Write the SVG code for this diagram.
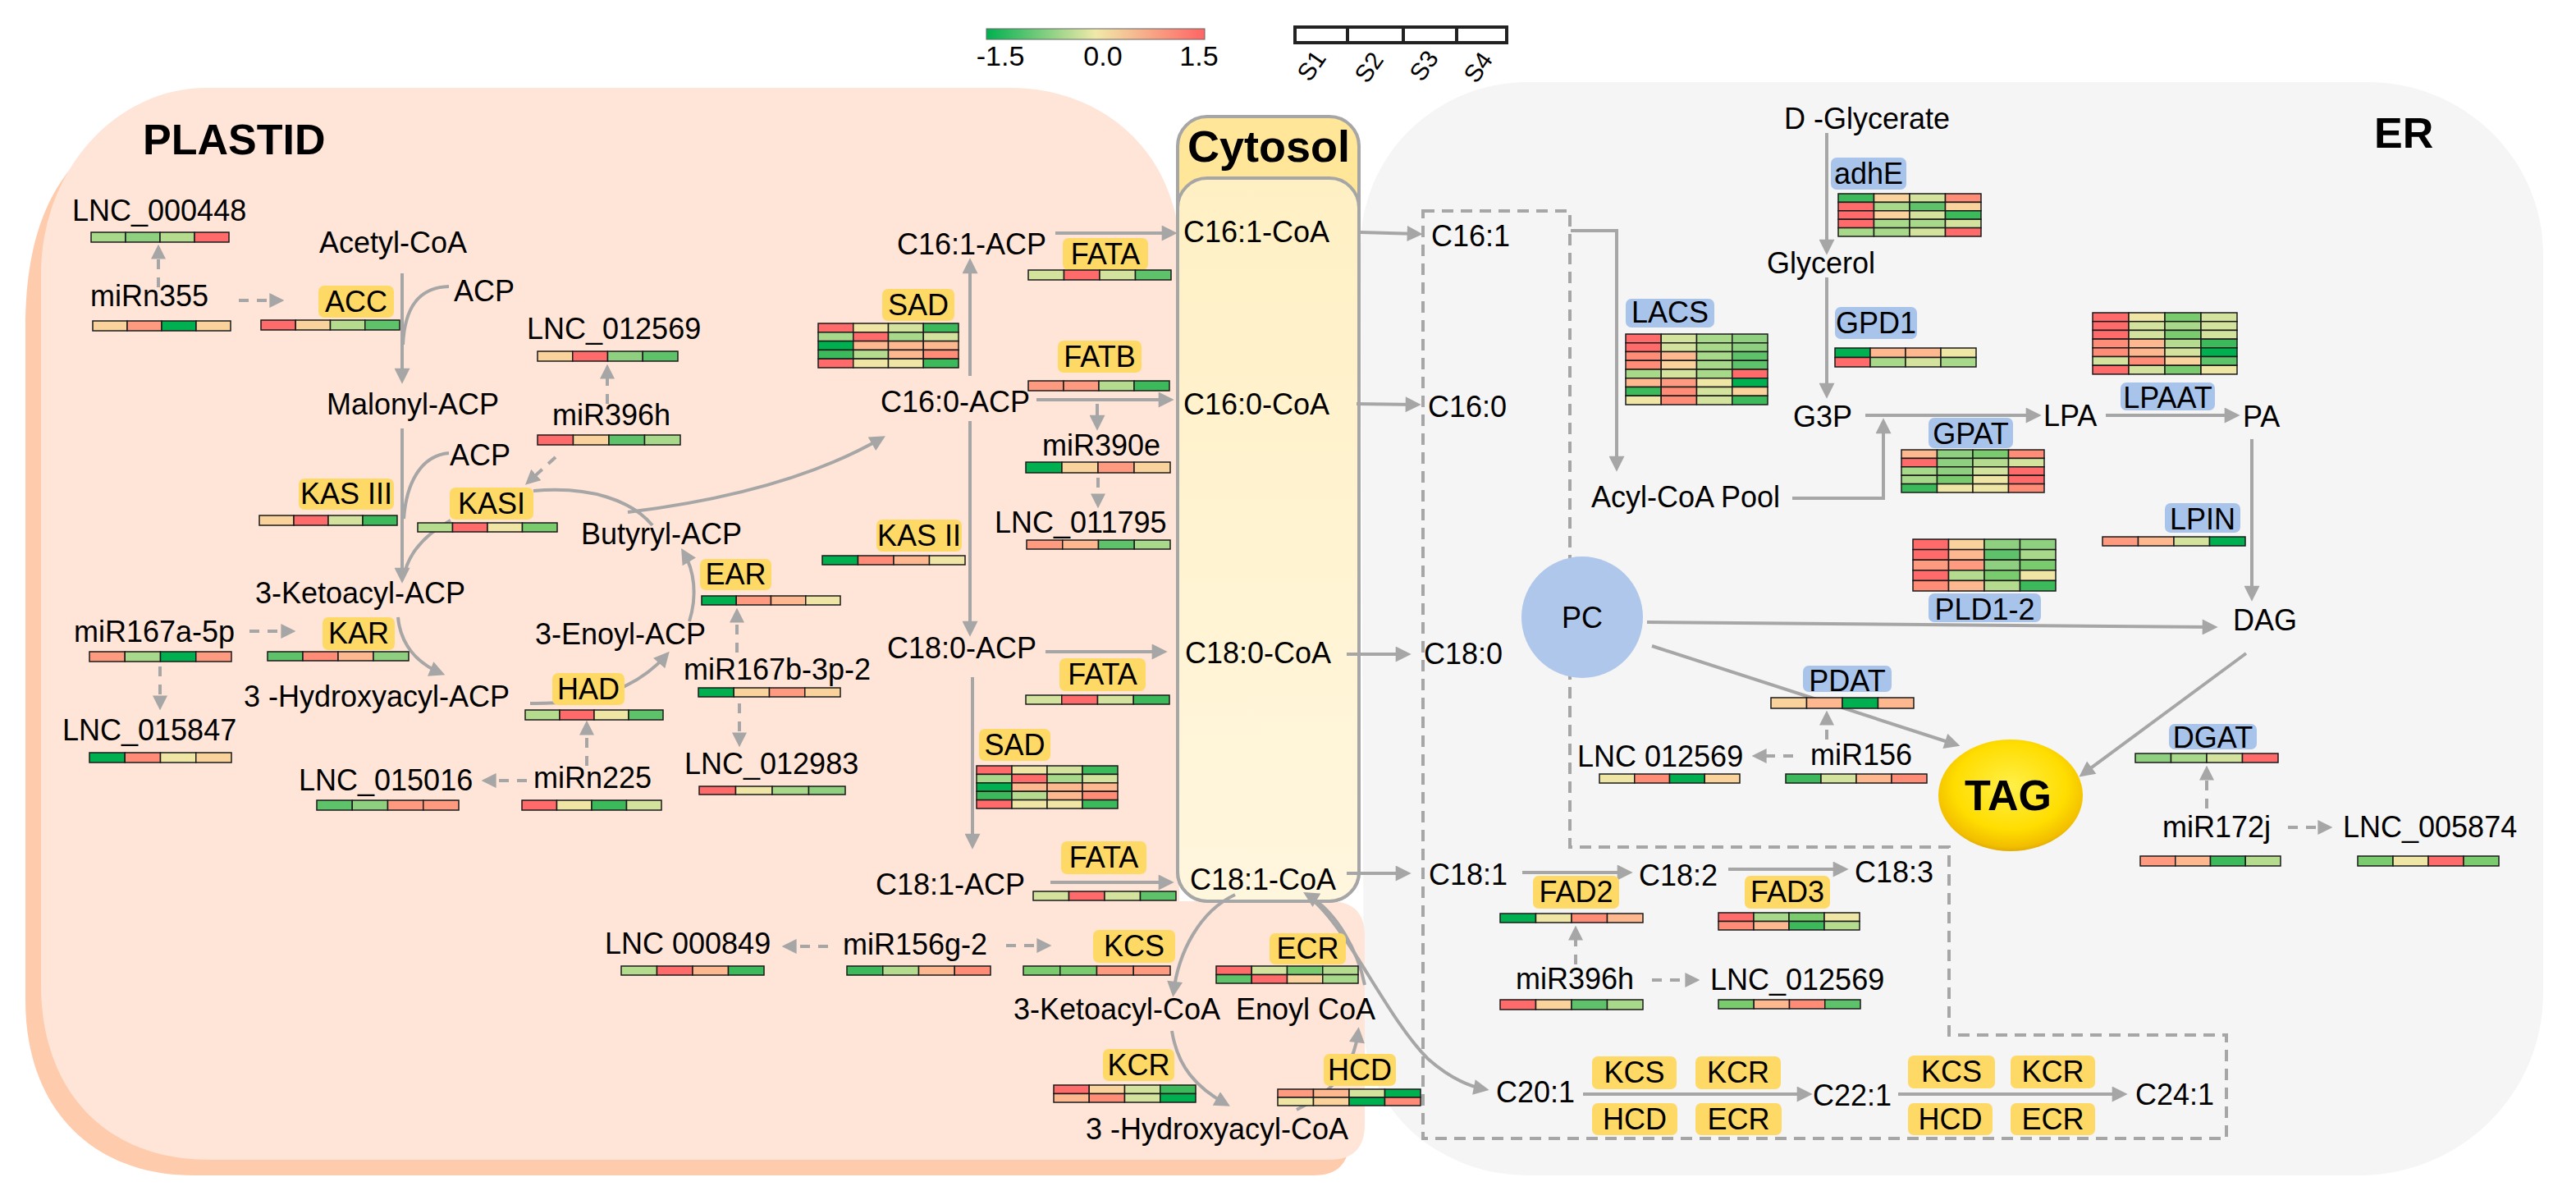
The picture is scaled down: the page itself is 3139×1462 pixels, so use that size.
<svg xmlns="http://www.w3.org/2000/svg" width="3139" height="1462" viewBox="0 0 3139 1462">
<style>
.t{font-family:"Liberation Sans",Arial,sans-serif;font-size:36px;fill:#000}
.m{text-anchor:middle}
.b{font-weight:bold}
.big{font-size:52px}
.cy{font-size:54px}
.lg{font-size:34px}
.sl{font-size:30px}
.ey{fill:#FFD966}
.eb{fill:#A9C4EB}
.c{fill:none;stroke:#A6A6A6;stroke-width:4}
.ar{marker-end:url(#ah)}
.d{fill:none;stroke:#A6A6A6;stroke-width:4;stroke-dasharray:12 10;marker-end:url(#ahd)}
.hm rect{stroke:#1a1a1a;stroke-width:1.5}
.g1{fill:#00B050}.g2{fill:#3CB95A}.g2b{fill:#5DC26A}.g3{fill:#7ACB6E}.g3b{fill:#8ED080}
.g4{fill:#A8D88A}.g4b{fill:#B5DC8E}.g5{fill:#D3E29D}.y{fill:#EFE6A6}.o1{fill:#FAD29C}
.o2{fill:#FDB890}.r1{fill:#FE9A80}.r1b{fill:#FE8C77}.r2{fill:#FF6B6B}
</style>
<defs>
<marker id="ah" viewBox="0 0 10 10" refX="7" refY="5" markerUnits="userSpaceOnUse" markerWidth="20" markerHeight="19" orient="auto"><path d="M0,0 L10,5 L0,10 z" fill="#A6A6A6"/></marker>
<marker id="ahd" viewBox="0 0 10 10" refX="7" refY="5" markerUnits="userSpaceOnUse" markerWidth="18" markerHeight="18" orient="auto"><path d="M0,0 L10,5 L0,10 z" fill="#A6A6A6"/></marker>
<linearGradient id="scale" x1="0" x2="1" y1="0" y2="0"><stop offset="0" stop-color="#00B050"/><stop offset="0.5" stop-color="#F0E9A9"/><stop offset="1" stop-color="#FF6464"/></linearGradient>
<linearGradient id="cyto" x1="0" x2="0" y1="0" y2="1"><stop offset="0" stop-color="#FFF0C4"/><stop offset="1" stop-color="#FFF6DE"/></linearGradient>
<radialGradient id="tag" cx="0.5" cy="0.42" r="0.6"><stop offset="0" stop-color="#FFF04A"/><stop offset="0.65" stop-color="#FFDD00"/><stop offset="0.9" stop-color="#F2BE00"/><stop offset="1" stop-color="#D9A400"/></radialGradient>
</defs>

<!-- compartments -->
<g id="er-region">
<path d="M1658,300 A204,200 0 0 1 1862,100 H2885 A214,210 0 0 1 3099,310 V1210 A224,222 0 0 1 2875,1432 H1862 A200,182 0 0 1 1662,1250 Z" fill="#F5F5F5"/>
<text class="t b big" x="2893" y="180">ER</text>
</g>
<g id="plastid-region">
<path d="M31,400 C31,300 55,235 100,190 L300,300 H1418 V1117 H1601 Q1644,1117 1644,1159 V1389 Q1644,1432 1601,1432 H236 C111,1432 31,1349 31,1219 Z" fill="#FFCBAD"/>
<path d="M50,333 A202,226 0 0 1 252,107 H1232 C1330,107 1425,170 1437,290 V1098 H1620 Q1663,1098 1663,1140 V1370 Q1663,1413 1620,1413 H255 C130,1413 50,1330 50,1200 Z" fill="#FEE5D7"/>
<text class="t b big" x="174" y="188">PLASTID</text>
</g>
<g id="cytosol-region">
<rect x="1435" y="142" width="221" height="956" rx="36" fill="#FFE699" stroke="#A6A6A6" stroke-width="4"/>
<rect x="1435" y="217" width="221" height="881" rx="36" fill="url(#cyto)" stroke="#A6A6A6" stroke-width="4"/>
<text class="t b m cy" x="1546" y="197">Cytosol</text>
</g>
<path id="er-dashed-box" d="M1734,257 H1913 V1032 H2375 V1261 H2713 V1387 H1734 Z" fill="none" stroke="#A6A6A6" stroke-width="4" stroke-dasharray="14 9"/>

<!-- legend -->
<g id="legend-scale">
<rect x="1202" y="35" width="266" height="13" fill="url(#scale)" stroke="#666" stroke-width="1"/>
<text class="t m lg" x="1219" y="80">-1.5</text>
<text class="t m lg" x="1344" y="80">0.0</text>
<text class="t m lg" x="1461" y="80">1.5</text>
</g>
<g id="legend-samples">
<rect x="1578" y="33" width="258" height="19" fill="#fff" stroke="#222" stroke-width="4"/>
<path d="M1642,33 V52 M1710,33 V52 M1775,33 V52" stroke="#222" stroke-width="4"/>
<text class="t sl" transform="translate(1596,101) rotate(-55)">S1</text>
<text class="t sl" transform="translate(1666,103) rotate(-55)">S2</text>
<text class="t sl" transform="translate(1733,101) rotate(-55)">S3</text>
<text class="t sl" transform="translate(1799,103) rotate(-55)">S4</text>
</g>

<!-- connectors -->
<g id="connectors">
<path class="c ar" d="M490,333 V462"/>
<path class="c" d="M547,349 C510,350 493,375 491,420"/>
<path class="c ar" d="M490,522 V705"/>
<path class="c" d="M547,552 C512,555 495,590 492,632"/>
<path class="c" d="M549,634 C520,650 500,670 493,698"/>
<path class="c" d="M650,598 C720,592 770,610 795,640"/>
<path class="c ar" d="M765,624 Q960,600 1074,534"/>
<path class="c ar" d="M485,752 C488,785 508,808 537,820"/>
<path class="c ar" d="M646,857 C720,858 775,840 812,798"/>
<path class="c ar" d="M840,757 C850,725 846,695 833,673"/>
<path class="c ar" d="M1286,284 H1429"/>
<path class="c ar" d="M1182,458 V320"/>
<path class="c ar" d="M1263,487 H1425"/>
<path class="c ar" d="M1337,492 V519"/>
<path class="c ar" d="M1182,513 V770"/>
<path class="c ar" d="M1274,794 H1417"/>
<path class="c ar" d="M1185,825 V1029"/>
<path class="c ar" d="M1280,1075 H1425"/>
<path class="c ar" d="M1505,1090 C1462,1110 1436,1160 1430,1209"/>
<path class="c ar" d="M1428,1256 C1435,1300 1458,1325 1494,1345"/>
<path class="c ar" d="M1580,1352 C1625,1330 1650,1300 1655,1257"/>
<path class="c ar" d="M1663,1200 C1655,1160 1630,1112 1593,1090"/>
<path class="c ar" d="M1598,1095 C1645,1135 1690,1240 1740,1290 C1765,1312 1788,1323 1809,1327"/>
<path class="c ar" d="M1658,283 L1728,285"/>
<path class="c ar" d="M1653,492 L1726,493"/>
<path class="c ar" d="M1641,797 H1714"/>
<path class="c ar" d="M1641,1064 H1714"/>
<path class="c ar" d="M1914,281 H1970 V569"/>
<path class="c ar" d="M2226,162 V305"/>
<path class="c ar" d="M2226,338 V480"/>
<path class="c ar" d="M2184,607 H2295 V515"/>
<path class="c ar" d="M2273,506 H2482"/>
<path class="c ar" d="M2566,506 H2724"/>
<path class="c ar" d="M2744,535 V727"/>
<path class="c ar" d="M2007,758 L2697,764"/>
<path class="c ar" d="M2013,787 L2383,907"/>
<path class="c ar" d="M2737,796 L2538,943"/>
<path class="c ar" d="M1855,1063 H1984"/>
<path class="c ar" d="M2106,1059 H2247"/>
<path class="c ar" d="M1929,1333 H2203"/>
<path class="c ar" d="M2313,1333 H2587"/>
<path class="d" d="M193,350 V303"/>
<path class="d" d="M291,366 H341"/>
<path class="d" d="M740,492 V449"/>
<path class="d" d="M677,557 L644,587"/>
<path class="d" d="M304,769 H355"/>
<path class="d" d="M195,812 V860"/>
<path class="d" d="M898,795 V746"/>
<path class="d" d="M901,857 V905"/>
<path class="d" d="M715,933 V883"/>
<path class="d" d="M642,951 H592"/>
<path class="d" d="M1338,582 V614"/>
<path class="d" d="M1009,1153 H958"/>
<path class="d" d="M1226,1152 H1276"/>
<path class="d" d="M2226,901 V871"/>
<path class="d" d="M2185,921 H2140"/>
<path class="d" d="M2689,985 V938"/>
<path class="d" d="M2788,1008 H2837"/>
<path class="d" d="M1920,1175 V1133"/>
<path class="d" d="M2013,1194 H2066"/>
</g>

<!-- plastid nodes -->
<g id="lnc-000448"><text class="t" x="88" y="269">LNC_000448</text>
<g class="hm" transform="translate(111,283)"><rect class="g4" width="42" height="12"/><rect class="g3b" x="42" width="42" height="12"/><rect class="g4b" x="84" width="42" height="12"/><rect class="r2" x="126" width="42" height="12"/></g></g>
<g id="mirn355"><text class="t" x="110" y="373">miRn355</text>
<g class="hm" transform="translate(113,391)"><rect class="o1" width="42" height="12"/><rect class="r1" x="42" width="42" height="12"/><rect class="g1" x="84" width="42" height="12"/><rect class="o1" x="126" width="42" height="12"/></g></g>
<g id="acetyl-coa"><text class="t" x="389" y="308">Acetyl-CoA</text></g>
<g id="acp-1"><text class="t" x="553" y="367">ACP</text></g>
<g id="acc"><rect class="ey" x="388" y="348" width="92" height="39" rx="7"/><text class="t m" x="434" y="380">ACC</text>
<g class="hm" transform="translate(318,390)"><rect class="r2" width="42.25" height="12"/><rect class="o1" x="42.25" width="42.25" height="12"/><rect class="g4b" x="84.5" width="42.25" height="12"/><rect class="g2b" x="126.75" width="42.25" height="12"/></g></g>
<g id="lnc-012569-a"><text class="t" x="642" y="413">LNC_012569</text>
<g class="hm" transform="translate(655,428)"><rect class="o1" width="42.75" height="12"/><rect class="r2" x="42.75" width="42.75" height="12"/><rect class="g3b" x="85.5" width="42.75" height="12"/><rect class="g2b" x="128.25" width="42.75" height="12"/></g></g>
<g id="malonyl-acp"><text class="t" x="398" y="505">Malonyl-ACP</text></g>
<g id="mir396h-a"><text class="t" x="673" y="518">miR396h</text>
<g class="hm" transform="translate(655,530)"><rect class="r2" width="43.5" height="12"/><rect class="o1" x="43.5" width="43.5" height="12"/><rect class="g2b" x="87" width="43.5" height="12"/><rect class="g4" x="130.5" width="43.5" height="12"/></g></g>
<g id="acp-2"><text class="t" x="548" y="567">ACP</text></g>
<g id="kas-iii"><rect class="ey" x="364" y="583" width="116" height="38" rx="7"/><text class="t m" x="422" y="614">KAS III</text>
<g class="hm" transform="translate(316,628)"><rect class="o1" width="42" height="12"/><rect class="r2" x="42" width="42" height="12"/><rect class="g5" x="84" width="42" height="12"/><rect class="g2" x="126" width="42" height="12"/></g></g>
<g id="kasi"><rect class="ey" x="548" y="594" width="102" height="39" rx="7"/><text class="t m" x="599" y="626">KASI</text>
<g class="hm" transform="translate(509,637)"><rect class="g4b" width="42.5" height="11"/><rect class="r2" x="42.5" width="42.5" height="11"/><rect class="y" x="85" width="42.5" height="11"/><rect class="g3" x="127.5" width="42.5" height="11"/></g></g>
<g id="butyryl-acp"><text class="t" x="708" y="663">Butyryl-ACP</text></g>
<g id="ketoacyl-acp"><text class="t" x="311" y="735">3-Ketoacyl-ACP</text></g>
<g id="mir167a-5p"><text class="t" x="90" y="782">miR167a-5p</text>
<g class="hm" transform="translate(109,794)"><rect class="r1" width="43.25" height="12"/><rect class="g4" x="43.25" width="43.25" height="12"/><rect class="g1" x="86.5" width="43.25" height="12"/><rect class="r1" x="129.75" width="43.25" height="12"/></g></g>
<g id="kar"><rect class="ey" x="393" y="752" width="88" height="40" rx="7"/><text class="t m" x="437" y="784">KAR</text>
<g class="hm" transform="translate(326,794)"><rect class="g2b" width="43" height="11"/><rect class="r1b" x="43" width="43" height="11"/><rect class="o2" x="86" width="43" height="11"/><rect class="g3b" x="129" width="43" height="11"/></g></g>
<g id="enoyl-acp"><text class="t" x="652" y="785">3-Enoyl-ACP</text></g>
<g id="ear"><rect class="ey" x="853" y="681" width="87" height="38" rx="7"/><text class="t m" x="896.5" y="712">EAR</text>
<g class="hm" transform="translate(855,726)"><rect class="g1" width="42.25" height="11"/><rect class="r1" x="42.25" width="42.25" height="11"/><rect class="o2" x="84.5" width="42.25" height="11"/><rect class="y" x="126.75" width="42.25" height="11"/></g></g>
<g id="hydroxyacyl-acp"><text class="t" x="297" y="861">3 -Hydroxyacyl-ACP</text></g>
<g id="had"><rect class="ey" x="673" y="820" width="88" height="39" rx="7"/><text class="t m" x="717" y="852">HAD</text>
<g class="hm" transform="translate(640,865)"><rect class="g4b" width="42" height="12"/><rect class="r2" x="42" width="42" height="12"/><rect class="y" x="84" width="42" height="12"/><rect class="g2b" x="126" width="42" height="12"/></g></g>
<g id="mir167b-3p-2"><text class="t" x="833" y="828">miR167b-3p-2</text>
<g class="hm" transform="translate(851,838)"><rect class="g1" width="43.25" height="11"/><rect class="o1" x="43.25" width="43.25" height="11"/><rect class="r1" x="86.5" width="43.25" height="11"/><rect class="o1" x="129.75" width="43.25" height="11"/></g></g>
<g id="lnc-015847"><text class="t" x="76" y="902">LNC_015847</text>
<g class="hm" transform="translate(109,917)"><rect class="g1" width="43.25" height="12"/><rect class="r1b" x="43.25" width="43.25" height="12"/><rect class="y" x="86.5" width="43.25" height="12"/><rect class="o1" x="129.75" width="43.25" height="12"/></g></g>
<g id="lnc-012983"><text class="t" x="834" y="943">LNC_012983</text>
<g class="hm" transform="translate(852,958)"><rect class="r2" width="44.5" height="10"/><rect class="y" x="44.5" width="44.5" height="10"/><rect class="g4" x="89" width="44.5" height="10"/><rect class="g3b" x="133.5" width="44.5" height="10"/></g></g>
<g id="mirn225"><text class="t" x="650" y="960">miRn225</text>
<g class="hm" transform="translate(636,975)"><rect class="r2" width="42.5" height="12"/><rect class="y" x="42.5" width="42.5" height="12"/><rect class="g2" x="85" width="42.5" height="12"/><rect class="g5" x="127.5" width="42.5" height="12"/></g></g>
<g id="lnc-015016"><text class="t" x="364" y="963">LNC_015016</text>
<g class="hm" transform="translate(386,975)"><rect class="g2b" width="43.25" height="12"/><rect class="g3b" x="43.25" width="43.25" height="12"/><rect class="r1" x="86.5" width="43.25" height="12"/><rect class="r1" x="129.75" width="43.25" height="12"/></g></g>

<g id="c16-1-acp"><text class="t" x="1093" y="310">C16:1-ACP</text></g>
<g id="fata-1"><rect class="ey" x="1295" y="290" width="104" height="39" rx="7"/><text class="t m" x="1347" y="322">FATA</text>
<g class="hm" transform="translate(1253,329)"><rect class="g5" width="43.5" height="12"/><rect class="r2" x="43.5" width="43.5" height="12"/><rect class="g5" x="87" width="43.5" height="12"/><rect class="g2b" x="130.5" width="43.5" height="12"/></g></g>
<g id="sad-1"><rect class="ey" x="1075" y="352" width="88" height="39" rx="7"/><text class="t m" x="1119" y="384">SAD</text>
<g class="hm" transform="translate(997,394)">
<rect class="r2" width="42.75" height="10.8"/><rect class="y" x="42.75" width="42.75" height="10.8"/><rect class="g5" x="85.5" width="42.75" height="10.8"/><rect class="g2" x="128.25" width="42.75" height="10.8"/>
<rect class="g4" y="10.8" width="42.75" height="10.8"/><rect class="r2" x="42.75" y="10.8" width="42.75" height="10.8"/><rect class="g4" x="85.5" y="10.8" width="42.75" height="10.8"/><rect class="g5" x="128.25" y="10.8" width="42.75" height="10.8"/>
<rect class="g1" y="21.6" width="42.75" height="10.8"/><rect class="o2" x="42.75" y="21.6" width="42.75" height="10.8"/><rect class="o2" x="85.5" y="21.6" width="42.75" height="10.8"/><rect class="o2" x="128.25" y="21.6" width="42.75" height="10.8"/>
<rect class="g2" y="32.4" width="42.75" height="10.8"/><rect class="g4b" x="42.75" y="32.4" width="42.75" height="10.8"/><rect class="o2" x="85.5" y="32.4" width="42.75" height="10.8"/><rect class="r1b" x="128.25" y="32.4" width="42.75" height="10.8"/>
<rect class="r2" y="43.2" width="42.75" height="10.8"/><rect class="y" x="42.75" y="43.2" width="42.75" height="10.8"/><rect class="y" x="85.5" y="43.2" width="42.75" height="10.8"/><rect class="g2" x="128.25" y="43.2" width="42.75" height="10.8"/>
</g></g>
<g id="c16-0-acp"><text class="t" x="1073" y="502">C16:0-ACP</text></g>
<g id="fatb"><rect class="ey" x="1289" y="415" width="102" height="39" rx="7"/><text class="t m" x="1340" y="447">FATB</text>
<g class="hm" transform="translate(1253,464)"><rect class="r1" width="43" height="12"/><rect class="r1" x="43" width="43" height="12"/><rect class="g4b" x="86" width="43" height="12"/><rect class="g2" x="129" width="43" height="12"/></g></g>
<g id="mir390e"><text class="t" x="1270" y="555">miR390e</text>
<g class="hm" transform="translate(1250,563)"><rect class="g1" width="44" height="13"/><rect class="o1" x="44" width="44" height="13"/><rect class="r1" x="88" width="44" height="13"/><rect class="o1" x="132" width="44" height="13"/></g></g>
<g id="lnc-011795"><text class="t" x="1212" y="649">LNC_011795</text>
<g class="hm" transform="translate(1251,658)"><rect class="r1" width="43.75" height="11"/><rect class="o2" x="43.75" width="43.75" height="11"/><rect class="g2b" x="87.5" width="43.75" height="11"/><rect class="g4" x="131.25" width="43.75" height="11"/></g></g>
<g id="kas-ii"><rect class="ey" x="1068" y="633" width="104" height="39" rx="7"/><text class="t m" x="1120" y="665">KAS II</text>
<g class="hm" transform="translate(1002,677)"><rect class="g1" width="43.5" height="11"/><rect class="r1b" x="43.5" width="43.5" height="11"/><rect class="o2" x="87" width="43.5" height="11"/><rect class="y" x="130.5" width="43.5" height="11"/></g></g>
<g id="c18-0-acp"><text class="t" x="1081" y="802">C18:0-ACP</text></g>
<g id="fata-2"><rect class="ey" x="1291" y="802" width="105" height="40" rx="7"/><text class="t m" x="1343.5" y="834">FATA</text>
<g class="hm" transform="translate(1250,847)"><rect class="g5" width="43.75" height="11"/><rect class="r2" x="43.75" width="43.75" height="11"/><rect class="g5" x="87.5" width="43.75" height="11"/><rect class="g2" x="131.25" width="43.75" height="11"/></g></g>
<g id="sad-2"><rect class="ey" x="1193" y="888" width="87" height="39" rx="7"/><text class="t m" x="1236.5" y="920">SAD</text>
<g class="hm" transform="translate(1190,933)">
<rect class="r2" width="43" height="10.4"/><rect class="y" x="43" width="43" height="10.4"/><rect class="g5" x="86" width="43" height="10.4"/><rect class="g2" x="129" width="43" height="10.4"/>
<rect class="g4" y="10.4" width="43" height="10.4"/><rect class="r2" x="43" y="10.4" width="43" height="10.4"/><rect class="g4" x="86" y="10.4" width="43" height="10.4"/><rect class="g5" x="129" y="10.4" width="43" height="10.4"/>
<rect class="g1" y="20.8" width="43" height="10.4"/><rect class="o2" x="43" y="20.8" width="43" height="10.4"/><rect class="o2" x="86" y="20.8" width="43" height="10.4"/><rect class="o2" x="129" y="20.8" width="43" height="10.4"/>
<rect class="g2" y="31.2" width="43" height="10.4"/><rect class="g4b" x="43" y="31.2" width="43" height="10.4"/><rect class="o2" x="86" y="31.2" width="43" height="10.4"/><rect class="r1b" x="129" y="31.2" width="43" height="10.4"/>
<rect class="r2" y="41.6" width="43" height="10.4"/><rect class="y" x="43" y="41.6" width="43" height="10.4"/><rect class="y" x="86" y="41.6" width="43" height="10.4"/><rect class="g2" x="129" y="41.6" width="43" height="10.4"/>
</g></g>
<g id="c18-1-acp"><text class="t" x="1067" y="1090">C18:1-ACP</text></g>
<g id="fata-3"><rect class="ey" x="1293" y="1025" width="104" height="40" rx="7"/><text class="t m" x="1345" y="1057">FATA</text>
<g class="hm" transform="translate(1259,1086)"><rect class="g5" width="43.5" height="11"/><rect class="r2" x="43.5" width="43.5" height="11"/><rect class="g5" x="87" width="43.5" height="11"/><rect class="g2b" x="130.5" width="43.5" height="11"/></g></g>
<g id="lnc-000849"><text class="t" x="737" y="1162">LNC 000849</text>
<g class="hm" transform="translate(757,1177)"><rect class="g4b" width="43.5" height="11"/><rect class="r2" x="43.5" width="43.5" height="11"/><rect class="o2" x="87" width="43.5" height="11"/><rect class="g2" x="130.5" width="43.5" height="11"/></g></g>
<g id="mir156g-2"><text class="t" x="1027" y="1163">miR156g-2</text>
<g class="hm" transform="translate(1032,1177)"><rect class="g2" width="43.75" height="11"/><rect class="g4b" x="43.75" width="43.75" height="11"/><rect class="o2" x="87.5" width="43.75" height="11"/><rect class="r1b" x="131.25" width="43.75" height="11"/></g></g>
<g id="kcs-1"><rect class="ey" x="1332" y="1133" width="100" height="40" rx="7"/><text class="t m" x="1382" y="1165">KCS</text>
<g class="hm" transform="translate(1247,1177)"><rect class="g3" width="44.75" height="11"/><rect class="g3" x="44.75" width="44.75" height="11"/><rect class="r1" x="89.5" width="44.75" height="11"/><rect class="r1" x="134.25" width="44.75" height="11"/></g></g>
<g id="ecr-1"><rect class="ey" x="1547" y="1137" width="93" height="38" rx="7"/><text class="t m" x="1593.5" y="1168">ECR</text>
<g class="hm" transform="translate(1482,1177)">
<rect class="r2" width="43.25" height="10.5"/><rect class="g5" x="43.25" width="43.25" height="10.5"/><rect class="g3" x="86.5" width="43.25" height="10.5"/><rect class="g4b" x="129.75" width="43.25" height="10.5"/>
<rect class="g2b" y="10.5" width="43.25" height="10.5"/><rect class="r2" x="43.25" y="10.5" width="43.25" height="10.5"/><rect class="o1" x="86.5" y="10.5" width="43.25" height="10.5"/><rect class="g4" x="129.75" y="10.5" width="43.25" height="10.5"/>
</g></g>
<g id="ketoacyl-coa"><text class="t" x="1235" y="1242">3-Ketoacyl-CoA</text></g>
<g id="enoyl-coa"><text class="t" x="1506" y="1242">Enoyl CoA</text></g>
<g id="kcr-1"><rect class="ey" x="1344" y="1278" width="87" height="39" rx="7"/><text class="t m" x="1387.5" y="1310">KCR</text>
<g class="hm" transform="translate(1284,1322)">
<rect class="r2" width="43.25" height="10.5"/><rect class="o1" x="43.25" width="43.25" height="10.5"/><rect class="g5" x="86.5" width="43.25" height="10.5"/><rect class="g2" x="129.75" width="43.25" height="10.5"/>
<rect class="o2" y="10.5" width="43.25" height="10.5"/><rect class="r1b" x="43.25" y="10.5" width="43.25" height="10.5"/><rect class="g5" x="86.5" y="10.5" width="43.25" height="10.5"/><rect class="g1" x="129.75" y="10.5" width="43.25" height="10.5"/>
</g></g>
<g id="hcd-1"><rect class="ey" x="1613" y="1284" width="88" height="39" rx="7"/><text class="t m" x="1657" y="1316">HCD</text>
<g class="hm" transform="translate(1557,1327)">
<rect class="r1" width="43.5" height="10"/><rect class="o2" x="43.5" width="43.5" height="10"/><rect class="g5" x="87" width="43.5" height="10"/><rect class="g1" x="130.5" width="43.5" height="10"/>
<rect class="y" y="10" width="43.5" height="10"/><rect class="o1" x="43.5" y="10" width="43.5" height="10"/><rect class="g1" x="87" y="10" width="43.5" height="10"/><rect class="r1b" x="130.5" y="10" width="43.5" height="10"/>
</g></g>
<g id="hydroxyacyl-coa"><text class="t" x="1323" y="1388">3 -Hydroxyacyl-CoA</text></g>

<!-- cytosol nodes -->
<g id="c16-1-coa"><text class="t" x="1442" y="295">C16:1-CoA</text></g>
<g id="c16-0-coa"><text class="t" x="1442" y="505">C16:0-CoA</text></g>
<g id="c18-0-coa"><text class="t" x="1444" y="808">C18:0-CoA</text></g>
<g id="c18-1-coa"><text class="t" x="1450" y="1084">C18:1-CoA</text></g>

<!-- ER nodes -->
<g id="c16-1"><text class="t" x="1744" y="300">C16:1</text></g>
<g id="c16-0"><text class="t" x="1740" y="508">C16:0</text></g>
<g id="c18-0"><text class="t" x="1735" y="809">C18:0</text></g>
<g id="c18-1"><text class="t" x="1741" y="1078">C18:1</text></g>
<g id="d-glycerate"><text class="t" x="2174" y="157">D -Glycerate</text></g>
<g id="adhe"><rect class="eb" x="2231" y="192" width="92" height="39" rx="7"/><text class="t m" x="2277" y="224">adhE</text>
<g class="hm" transform="translate(2240,236)">
<rect class="g2" width="43.5" height="10.4"/><rect class="o1" x="43.5" width="43.5" height="10.4"/><rect class="g5" x="87" width="43.5" height="10.4"/><rect class="r1b" x="130.5" width="43.5" height="10.4"/>
<rect class="r2" y="10.4" width="43.5" height="10.4"/><rect class="g4" x="43.5" y="10.4" width="43.5" height="10.4"/><rect class="g2b" x="87" y="10.4" width="43.5" height="10.4"/><rect class="o1" x="130.5" y="10.4" width="43.5" height="10.4"/>
<rect class="r2" y="20.8" width="43.5" height="10.4"/><rect class="o1" x="43.5" y="20.8" width="43.5" height="10.4"/><rect class="g5" x="87" y="20.8" width="43.5" height="10.4"/><rect class="g2" x="130.5" y="20.8" width="43.5" height="10.4"/>
<rect class="r2" y="31.2" width="43.5" height="10.4"/><rect class="g4" x="43.5" y="31.2" width="43.5" height="10.4"/><rect class="g4" x="87" y="31.2" width="43.5" height="10.4"/><rect class="g5" x="130.5" y="31.2" width="43.5" height="10.4"/>
<rect class="g4" y="41.6" width="43.5" height="10.4"/><rect class="g4" x="43.5" y="41.6" width="43.5" height="10.4"/><rect class="g5" x="87" y="41.6" width="43.5" height="10.4"/><rect class="r2" x="130.5" y="41.6" width="43.5" height="10.4"/>
</g></g>
<g id="glycerol"><text class="t" x="2153" y="333">Glycerol</text></g>
<g id="gpd1"><rect class="eb" x="2236" y="374" width="100" height="39" rx="7"/><text class="t m" x="2286" y="406">GPD1</text>
<g class="hm" transform="translate(2236,424)">
<rect class="g1" width="43" height="11.5"/><rect class="o2" x="43" width="43" height="11.5"/><rect class="o2" x="86" width="43" height="11.5"/><rect class="y" x="129" width="43" height="11.5"/>
<rect class="r2" y="11.5" width="43" height="11.5"/><rect class="g4" x="43" y="11.5" width="43" height="11.5"/><rect class="g5" x="86" y="11.5" width="43" height="11.5"/><rect class="g4" x="129" y="11.5" width="43" height="11.5"/>
</g></g>
<g id="lacs"><rect class="eb" x="1981" y="364" width="108" height="35" rx="7"/><text class="t m" x="2035" y="393">LACS</text>
<g class="hm" transform="translate(1981,407)">
<rect class="r2" width="43.25" height="10.75"/><rect class="g5" x="43.25" width="43.25" height="10.75"/><rect class="g4" x="86.5" width="43.25" height="10.75"/><rect class="g3b" x="129.75" width="43.25" height="10.75"/>
<rect class="r2" y="10.75" width="43.25" height="10.75"/><rect class="g5" x="43.25" y="10.75" width="43.25" height="10.75"/><rect class="g4" x="86.5" y="10.75" width="43.25" height="10.75"/><rect class="g3b" x="129.75" y="10.75" width="43.25" height="10.75"/>
<rect class="r1b" y="21.5" width="43.25" height="10.75"/><rect class="o2" x="43.25" y="21.5" width="43.25" height="10.75"/><rect class="g4" x="86.5" y="21.5" width="43.25" height="10.75"/><rect class="g2b" x="129.75" y="21.5" width="43.25" height="10.75"/>
<rect class="r1b" y="32.25" width="43.25" height="10.75"/><rect class="o1" x="43.25" y="32.25" width="43.25" height="10.75"/><rect class="g4" x="86.5" y="32.25" width="43.25" height="10.75"/><rect class="g2b" x="129.75" y="32.25" width="43.25" height="10.75"/>
<rect class="g4" y="43" width="43.25" height="10.75"/><rect class="g5" x="43.25" y="43" width="43.25" height="10.75"/><rect class="g4" x="86.5" y="43" width="43.25" height="10.75"/><rect class="r2" x="129.75" y="43" width="43.25" height="10.75"/>
<rect class="o2" y="53.75" width="43.25" height="10.75"/><rect class="r1" x="43.25" y="53.75" width="43.25" height="10.75"/><rect class="y" x="86.5" y="53.75" width="43.25" height="10.75"/><rect class="g1" x="129.75" y="53.75" width="43.25" height="10.75"/>
<rect class="g2" y="64.5" width="43.25" height="10.75"/><rect class="r1b" x="43.25" y="64.5" width="43.25" height="10.75"/><rect class="g5" x="86.5" y="64.5" width="43.25" height="10.75"/><rect class="o1" x="129.75" y="64.5" width="43.25" height="10.75"/>
<rect class="y" y="75.25" width="43.25" height="10.75"/><rect class="r1b" x="43.25" y="75.25" width="43.25" height="10.75"/><rect class="g5" x="86.5" y="75.25" width="43.25" height="10.75"/><rect class="g2" x="129.75" y="75.25" width="43.25" height="10.75"/>
</g></g>
<g id="g3p"><text class="t" x="2185" y="520">G3P</text></g>
<g id="gpat"><rect class="eb" x="2350" y="509" width="103" height="37" rx="7"/><text class="t m" x="2401.5" y="541">GPAT</text>
<g class="hm" transform="translate(2317,548)">
<rect class="o2" width="43.5" height="10.4"/><rect class="g3b" x="43.5" width="43.5" height="10.4"/><rect class="g3" x="87" width="43.5" height="10.4"/><rect class="r1b" x="130.5" width="43.5" height="10.4"/>
<rect class="r2" y="10.4" width="43.5" height="10.4"/><rect class="g3b" x="43.5" y="10.4" width="43.5" height="10.4"/><rect class="g4b" x="87" y="10.4" width="43.5" height="10.4"/><rect class="g5" x="130.5" y="10.4" width="43.5" height="10.4"/>
<rect class="g4" y="20.8" width="43.5" height="10.4"/><rect class="g3b" x="43.5" y="20.8" width="43.5" height="10.4"/><rect class="g5" x="87" y="20.8" width="43.5" height="10.4"/><rect class="r2" x="130.5" y="20.8" width="43.5" height="10.4"/>
<rect class="g4" y="31.2" width="43.5" height="10.4"/><rect class="g3" x="43.5" y="31.2" width="43.5" height="10.4"/><rect class="y" x="87" y="31.2" width="43.5" height="10.4"/><rect class="r2" x="130.5" y="31.2" width="43.5" height="10.4"/>
<rect class="g2" y="41.6" width="43.5" height="10.4"/><rect class="y" x="43.5" y="41.6" width="43.5" height="10.4"/><rect class="y" x="87" y="41.6" width="43.5" height="10.4"/><rect class="r1b" x="130.5" y="41.6" width="43.5" height="10.4"/>
</g></g>
<g id="lpa"><text class="t" x="2490" y="519">LPA</text></g>
<g id="lpaat"><rect class="eb" x="2584" y="466" width="115" height="34" rx="7"/><text class="t m" x="2641.5" y="497">LPAAT</text>
<g class="hm" transform="translate(2550,381)">
<rect class="r2" width="44" height="10.7"/><rect class="y" x="44" width="44" height="10.7"/><rect class="g3" x="88" width="44" height="10.7"/><rect class="g5" x="132" width="44" height="10.7"/>
<rect class="r2" y="10.7" width="44" height="10.7"/><rect class="g5" x="44" y="10.7" width="44" height="10.7"/><rect class="g4" x="88" y="10.7" width="44" height="10.7"/><rect class="g5" x="132" y="10.7" width="44" height="10.7"/>
<rect class="r2" y="21.4" width="44" height="10.7"/><rect class="g5" x="44" y="21.4" width="44" height="10.7"/><rect class="g3" x="88" y="21.4" width="44" height="10.7"/><rect class="g5" x="132" y="21.4" width="44" height="10.7"/>
<rect class="r1b" y="32.1" width="44" height="10.7"/><rect class="o2" x="44" y="32.1" width="44" height="10.7"/><rect class="g4b" x="88" y="32.1" width="44" height="10.7"/><rect class="g2" x="132" y="32.1" width="44" height="10.7"/>
<rect class="r1b" y="42.8" width="44" height="10.7"/><rect class="o2" x="44" y="42.8" width="44" height="10.7"/><rect class="g5" x="88" y="42.8" width="44" height="10.7"/><rect class="g1" x="132" y="42.8" width="44" height="10.7"/>
<rect class="g5" y="53.5" width="44" height="10.7"/><rect class="r1b" x="44" y="53.5" width="44" height="10.7"/><rect class="o1" x="88" y="53.5" width="44" height="10.7"/><rect class="g2b" x="132" y="53.5" width="44" height="10.7"/>
<rect class="r2" y="64.2" width="44" height="10.7"/><rect class="g5" x="44" y="64.2" width="44" height="10.7"/><rect class="g3" x="88" y="64.2" width="44" height="10.7"/><rect class="y" x="132" y="64.2" width="44" height="10.7"/>
</g></g>
<g id="pa"><text class="t" x="2733" y="520">PA</text></g>
<g id="acyl-coa-pool"><text class="t" x="1939" y="618">Acyl-CoA Pool</text></g>
<g id="lpin"><rect class="eb" x="2638" y="613" width="92" height="36" rx="7"/><text class="t m" x="2684" y="645">LPIN</text>
<g class="hm" transform="translate(2562,654)"><rect class="r1" width="43.5" height="11"/><rect class="o2" x="43.5" width="43.5" height="11"/><rect class="g5" x="87" width="43.5" height="11"/><rect class="g1" x="130.5" width="43.5" height="11"/></g></g>
<g id="pld1-2"><rect class="eb" x="2350" y="723" width="137" height="35" rx="7"/><text class="t m" x="2418.5" y="755">PLD1-2</text>
<g class="hm" transform="translate(2331,657)">
<rect class="r2" width="43.5" height="12.6"/><rect class="o1" x="43.5" width="43.5" height="12.6"/><rect class="g3b" x="87" width="43.5" height="12.6"/><rect class="g3b" x="130.5" width="43.5" height="12.6"/>
<rect class="r2" y="12.6" width="43.5" height="12.6"/><rect class="o2" x="43.5" y="12.6" width="43.5" height="12.6"/><rect class="g2b" x="87" y="12.6" width="43.5" height="12.6"/><rect class="g4" x="130.5" y="12.6" width="43.5" height="12.6"/>
<rect class="r1" y="25.2" width="43.5" height="12.6"/><rect class="r1" x="43.5" y="25.2" width="43.5" height="12.6"/><rect class="g3b" x="87" y="25.2" width="43.5" height="12.6"/><rect class="g3" x="130.5" y="25.2" width="43.5" height="12.6"/>
<rect class="r2" y="37.8" width="43.5" height="12.6"/><rect class="g4b" x="43.5" y="37.8" width="43.5" height="12.6"/><rect class="g3" x="87" y="37.8" width="43.5" height="12.6"/><rect class="y" x="130.5" y="37.8" width="43.5" height="12.6"/>
<rect class="r1b" y="50.4" width="43.5" height="12.6"/><rect class="o2" x="43.5" y="50.4" width="43.5" height="12.6"/><rect class="g4b" x="87" y="50.4" width="43.5" height="12.6"/><rect class="g2" x="130.5" y="50.4" width="43.5" height="12.6"/>
</g></g>
<g id="pc"><circle cx="1928" cy="752" r="74" fill="#AEC7EA"/><text class="t m" x="1928" y="765">PC</text></g>
<g id="dag"><text class="t" x="2721" y="768">DAG</text></g>
<g id="pdat"><rect class="eb" x="2197" y="811" width="108" height="32" rx="7"/><text class="t m" x="2251" y="842">PDAT</text>
<g class="hm" transform="translate(2158,850)"><rect class="o1" width="43.5" height="13"/><rect class="o2" x="43.5" width="43.5" height="13"/><rect class="g1" x="87" width="43.5" height="13"/><rect class="o2" x="130.5" width="43.5" height="13"/></g></g>
<g id="mir156"><text class="t" x="2206" y="932">miR156</text>
<g class="hm" transform="translate(2176,943)"><rect class="g2" width="43" height="11"/><rect class="g5" x="43" width="43" height="11"/><rect class="o2" x="86" width="43" height="11"/><rect class="r1b" x="129" width="43" height="11"/></g></g>
<g id="lnc-012569-b"><text class="t" x="1922" y="934">LNC 012569</text>
<g class="hm" transform="translate(1949,943)"><rect class="y" width="42.75" height="11"/><rect class="r1b" x="42.75" width="42.75" height="11"/><rect class="g1" x="85.5" width="42.75" height="11"/><rect class="o1" x="128.25" width="42.75" height="11"/></g></g>
<g id="tag"><ellipse cx="2450" cy="969" rx="88" ry="68" fill="url(#tag)"/><text class="t b m big" x="2447" y="987">TAG</text></g>
<g id="dgat"><rect class="eb" x="2643" y="882" width="107" height="31" rx="7"/><text class="t m" x="2696.5" y="911">DGAT</text>
<g class="hm" transform="translate(2602,918)"><rect class="g3b" width="43.5" height="11"/><rect class="g4" x="43.5" width="43.5" height="11"/><rect class="g5" x="87" width="43.5" height="11"/><rect class="r2" x="130.5" width="43.5" height="11"/></g></g>
<g id="mir172j"><text class="t" x="2635" y="1020">miR172j</text>
<g class="hm" transform="translate(2608,1043)"><rect class="r1" width="42.75" height="12"/><rect class="o2" x="42.75" width="42.75" height="12"/><rect class="g2" x="85.5" width="42.75" height="12"/><rect class="g4b" x="128.25" width="42.75" height="12"/></g></g>
<g id="lnc-005874"><text class="t" x="2855" y="1020">LNC_005874</text>
<g class="hm" transform="translate(2873,1043)"><rect class="g3" width="43" height="12"/><rect class="y" x="43" width="43" height="12"/><rect class="r2" x="86" width="43" height="12"/><rect class="g3" x="129" width="43" height="12"/></g></g>
<g id="c18-2"><text class="t" x="1997" y="1079">C18:2</text></g>
<g id="c18-3"><text class="t" x="2260" y="1075">C18:3</text></g>
<g id="fad2"><rect class="ey" x="1868" y="1067" width="105" height="40" rx="7"/><text class="t m" x="1920.5" y="1099">FAD2</text>
<g class="hm" transform="translate(1828,1113)"><rect class="g1" width="43.5" height="11"/><rect class="y" x="43.5" width="43.5" height="11"/><rect class="r1b" x="87" width="43.5" height="11"/><rect class="o2" x="130.5" width="43.5" height="11"/></g></g>
<g id="fad3"><rect class="ey" x="2126" y="1067" width="104" height="40" rx="7"/><text class="t m" x="2178" y="1099">FAD3</text>
<g class="hm" transform="translate(2094,1112)">
<rect class="r2" width="43" height="10.5"/><rect class="g4" x="43" width="43" height="10.5"/><rect class="g3" x="86" width="43" height="10.5"/><rect class="y" x="129" width="43" height="10.5"/>
<rect class="r1b" y="10.5" width="43" height="10.5"/><rect class="o2" x="43" y="10.5" width="43" height="10.5"/><rect class="g2" x="86" y="10.5" width="43" height="10.5"/><rect class="g4b" x="129" y="10.5" width="43" height="10.5"/>
</g></g>
<g id="mir396h-b"><text class="t" x="1847" y="1205">miR396h</text>
<g class="hm" transform="translate(1828,1218)"><rect class="r2" width="43.5" height="12"/><rect class="o1" x="43.5" width="43.5" height="12"/><rect class="g2b" x="87" width="43.5" height="12"/><rect class="g4" x="130.5" width="43.5" height="12"/></g></g>
<g id="lnc-012569-c"><text class="t" x="2084" y="1206">LNC_012569</text>
<g class="hm" transform="translate(2094,1218)"><rect class="g3" width="43.25" height="11"/><rect class="o2" x="43.25" width="43.25" height="11"/><rect class="r1b" x="86.5" width="43.25" height="11"/><rect class="g2b" x="129.75" width="43.25" height="11"/></g></g>
<g id="c20-1"><text class="t" x="1823" y="1343">C20:1</text></g>
<g id="elong-1">
<rect class="ey" x="1940" y="1287" width="103" height="40" rx="7"/><text class="t m" x="1991.5" y="1319">KCS</text>
<rect class="ey" x="2066" y="1287" width="104" height="40" rx="7"/><text class="t m" x="2118" y="1319">KCR</text>
<rect class="ey" x="1940" y="1344" width="104" height="39" rx="7"/><text class="t m" x="1992" y="1376">HCD</text>
<rect class="ey" x="2066" y="1344" width="105" height="39" rx="7"/><text class="t m" x="2118.5" y="1376">ECR</text>
</g>
<g id="c22-1"><text class="t" x="2209" y="1347">C22:1</text></g>
<g id="elong-2">
<rect class="ey" x="2325" y="1286" width="106" height="40" rx="7"/><text class="t m" x="2378" y="1318">KCS</text>
<rect class="ey" x="2450" y="1286" width="103" height="40" rx="7"/><text class="t m" x="2501.5" y="1318">KCR</text>
<rect class="ey" x="2325" y="1344" width="103" height="39" rx="7"/><text class="t m" x="2376.5" y="1376">HCD</text>
<rect class="ey" x="2450" y="1344" width="103" height="39" rx="7"/><text class="t m" x="2501.5" y="1376">ECR</text>
</g>
<g id="c24-1"><text class="t" x="2602" y="1346">C24:1</text></g>
</svg>
